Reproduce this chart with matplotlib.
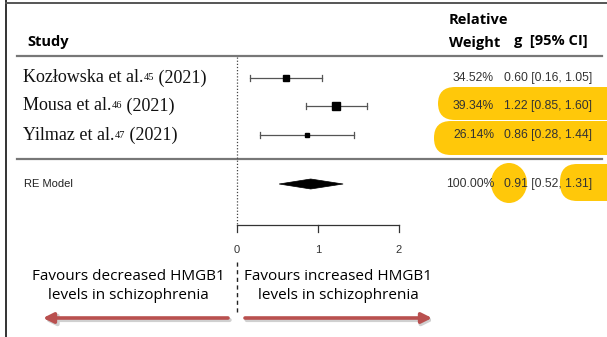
import numpy as np
import matplotlib
matplotlib.use("Agg")
import matplotlib.pyplot as plt
from matplotlib.patches import FancyBboxPatch, Ellipse, Polygon

# study level data
authors = ["Kozłowska et al.", "Mousa et al.", "Yilmaz et al."]
refs = ["45", "46", "47"]
years = ["(2021)", "(2021)", "(2021)"]
g = [0.60, 1.22, 0.86]
ci_lo = [0.16, 0.85, 0.28]
ci_hi = [1.05, 1.60, 1.44]
weights = [34.52, 39.34, 26.14]
box_size = [6, 8, 3.5]

# random effects summary
re_g, re_lo, re_hi = 0.91, 0.52, 1.31

ticks = [0, 1, 2]

W, H = 607, 337
fig = plt.figure(figsize=(W / 100, H / 100), dpi=100)
ax = fig.add_axes([0, 0, 1, 1])
x0, unit = 237, 81  # pixel of effect 0, pixels per unit
ax.set_xlim(-x0 / unit, (W - x0) / unit)
ax.set_ylim(H, 0)
ax.axis("off")


def px(p):
    return (p - x0) / unit


row_y = [78, 106, 135]
re_y = 184
gold = "#ffc80a"


def pill(x_left, y_top, height, asp=80):
    ax.add_patch(FancyBboxPatch((px(x_left), y_top), px(630) - px(x_left), height,
                                boxstyle="round,pad=0,rounding_size=0.21",
                                mutation_aspect=asp, fc=gold, ec="none"))


# highlights
pill(438, 87, 33)
pill(434, 121, 34)
ax.add_patch(Ellipse((px(509), 183), 36 / unit, 40, fc=gold, ec="none"))
pill(560, 164, 37, asp=85)

# frame
ax.plot([px(6), px(6)], [0, H], color="#333333", lw=1.4)
ax.plot([px(6), px(W)], [3, 3], color="#555555", lw=1.4)
ax.plot([px(17), px(602)], [56, 56], color="#777777", lw=1.6)
ax.plot([px(17), px(602)], [159, 159], color="#777777", lw=1.6)

# reference line
ax.plot([0, 0], [57, 225], color="#444444", lw=0.9, ls=(0, (1, 1.5)))
ax.plot([0, 0], [262, 312], color="#222222", lw=1.0, ls=(0, (3, 2.5)))

# study estimates
for y, m, lo, hi, s in zip(row_y, g, ci_lo, ci_hi, box_size):
    ax.plot([lo, hi], [y, y], color="#555555", lw=0.9)
    ax.plot([lo, lo], [y - 3, y + 3], color="#555555", lw=0.9)
    ax.plot([hi, hi], [y - 3, y + 3], color="#555555", lw=0.9)
    ax.plot(m, y, marker="s", ms=s * 0.72, color="black", mec="black")

# summary diamond
ax.add_patch(Polygon([(re_lo, re_y), (re_g, re_y - 5), (re_hi, re_y), (re_g, re_y + 5)],
                     closed=True, fc="black", ec="black", lw=0.5))

# x axis
ax.plot([ticks[0], ticks[-1]], [225, 225], color="#333333", lw=0.9)
for t in ticks:
    ax.plot([t, t], [225, 232], color="#333333", lw=0.9)
    ax.text(t, 250, str(t), ha="center", va="center", fontsize=8,
            family="Liberation Sans", color="#333333")

# headers
hdr = dict(fontsize=10.5, fontweight="bold", family="Open Sans", ha="left", va="center")
ax.text(px(27), 42, "Study", **hdr)
ax.text(px(449), 20, "Relative", **hdr)
ax.text(px(449), 43, "Weight", **hdr)
ax.text(px(514), 41, "g  [95% CI]", **hdr)

num = dict(fontsize=8.7, family="Liberation Sans", va="center", color="#333333")

# rows text
for y, a, r, yr, w, m, lo, hi in zip(row_y, authors, refs, years, weights, g, ci_lo, ci_hi):
    t1 = ax.text(px(23), y, a, fontsize=13, family="Liberation Serif",
                 ha="left", va="center", color="#111111")
    t2 = ax.annotate(r, xy=(1, 0.5), xycoords=t1, fontsize=7.5,
                     family="Liberation Serif", ha="left", va="center",
                     color="#111111")
    ax.annotate(" " + yr, xy=(1, 0.5), xycoords=t2, xytext=(0, -0.5),
                textcoords="offset points", fontsize=13, family="Liberation Serif",
                ha="left", va="center", color="#111111")
    ax.text(px(494), y, f"{w:.2f}%", ha="right", **num)
    ax.text(px(504), y, f"{m:.2f} [{lo:.2f}, {hi:.2f}]", ha="left", **num)

ax.text(px(24), re_y, "RE Model", fontsize=8, family="Liberation Sans",
        ha="left", va="center", color="#222222")
ax.text(px(494), re_y, "100.00%", ha="right", **num)
ax.text(px(504), re_y, f"{re_g:.2f} [{re_lo:.2f}, {re_hi:.2f}]", ha="left", **num)

# direction labels and arrows
ax.text(px(128), 286, "Favours decreased HMGB1\nlevels in schizophrenia", fontsize=11,
        family="Open Sans", ha="center", va="center", linespacing=1.4)
ax.text(px(338), 286, "Favours increased HMGB1\nlevels in schizophrenia", fontsize=11,
        family="Open Sans", ha="center", va="center", linespacing=1.4)

red = "#b9504f"
for start, end in [(228, 43), (245, 432)]:
    ax.annotate("", xy=(px(end) + 0.02, 320), xytext=(px(start) + 0.02, 320),
                arrowprops=dict(arrowstyle="-|>,head_length=0.6,head_width=0.3",
                                color="#d0d0d0", lw=3, shrinkA=0, shrinkB=0))
    ax.annotate("", xy=(px(end), 318), xytext=(px(start), 318),
                arrowprops=dict(arrowstyle="-|>,head_length=0.6,head_width=0.3",
                                color=red, lw=2.6, shrinkA=0, shrinkB=0))

fig.savefig("out.png", dpi=100)
